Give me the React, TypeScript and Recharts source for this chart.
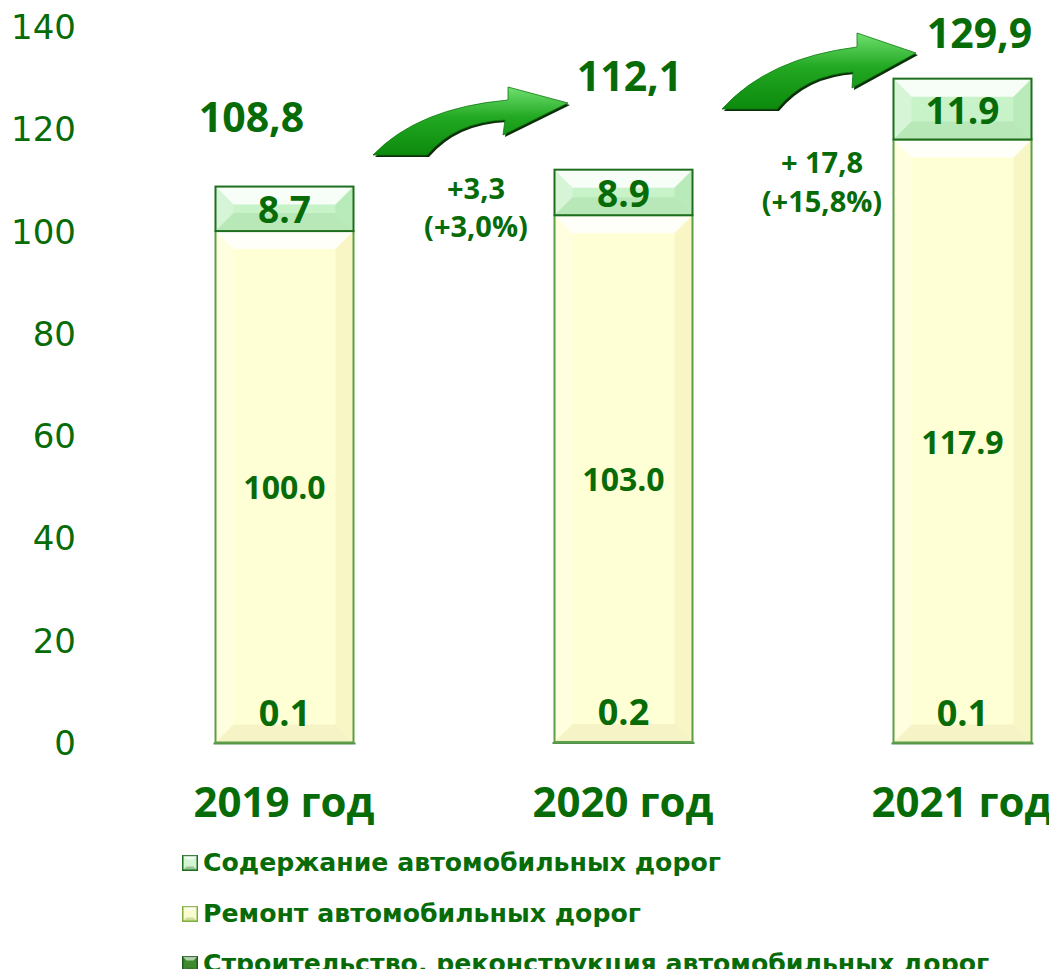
import { BarChart, Bar, XAxis, YAxis, LabelList } from "recharts";

// values
const years = ["2019 год", "2020 год", "2021 год"];
const construction = [0.1, 0.2, 0.1];
const repair = [100.0, 103.0, 117.9];
const maintenance = [8.7, 8.9, 11.9];
const yTicks = [0, 20, 40, 60, 80, 100, 120, 140];
const changeAbs = ["+3,3", "+ 17,8"];
const changePct = ["(+3,0%)", "(+15,8%)"];

const legendItems = [
  { name: "Содержание автомобильных дорог", face: "#d4f5d4", edge: "#1f6e1f" },
  { name: "Ремонт автомобильных дорог", face: "#fbfbd0", edge: "#7fae3f" },
  { name: "Строительство, реконструкция автомобильных дорог", face: "#3f8a2f", edge: "#1d5a1d" },
];

const TEXT = "#076b07";
const NUM_FONT = "'Open Sans', sans-serif";
const LEGEND_FONT = "'DejaVu Sans', Verdana, sans-serif";

// where the totals sit relative to the top of each stack (layout only)
const TOTAL_OFFSETS = [
  [-33, -71],
  [6, -95],
  [17, -47],
];

const data = years.map((year, i) => ({
  year,
  construction: construction[i],
  repair: repair[i],
  maintenance: maintenance[i],
  total: construction[i] + repair[i] + maintenance[i],
}));

function BevelBar(props: any) {
  const { x, y, width, height, face, side, bottom, stroke } = props;
  if (!height || height < 2) {
    return <rect x={x - 2} y={y} width={width + 4} height={2} fill="#4f8f4f" />;
  }
  const b = Math.min(18, height / 2.4, width / 4);
  const r = x + width;
  const btm = y + height;
  return (
    <g>
      <rect x={x} y={y} width={width} height={height} fill={face} />
      <polygon points={`${x},${y} ${r},${y} ${r - b},${y + b} ${x + b},${y + b}`} fill="#ffffff" opacity={0.85} />
      <polygon points={`${x},${y} ${x + b},${y + b} ${x + b},${btm - b} ${x},${btm}`} fill="#ffffff" opacity={0.25} />
      <polygon points={`${r},${y} ${r},${btm} ${r - b},${btm - b} ${r - b},${y + b}`} fill={side} opacity={0.35} />
      <polygon points={`${x},${btm} ${r},${btm} ${r - b},${btm - b} ${x + b},${btm - b}`} fill={bottom} opacity={0.35} />
      <rect x={x} y={y} width={width} height={height} fill="none" stroke={stroke} strokeWidth={2} />
    </g>
  );
}

const centerLabel = (size: number) => (p: any) => {
  const { x, y, width, height, value } = p;
  return (
    <text
      x={x + width / 2}
      y={y + height / 2}
      textAnchor="middle"
      dominantBaseline="central"
      fontFamily={NUM_FONT}
      fontWeight={700}
      fontSize={size}
      fill={TEXT}
    >
      {Number(value).toFixed(1)}
    </text>
  );
};

const constructionLabel = (p: any) => {
  const { x, y, width, value } = p;
  return (
    <text
      x={x + width / 2}
      y={y - 30}
      textAnchor="middle"
      dominantBaseline="central"
      fontFamily={NUM_FONT}
      fontWeight={700}
      fontSize={36}
      fill={TEXT}
    >
      {Number(value).toFixed(1)}
    </text>
  );
};

const totalLabel = (p: any) => {
  const { x, y, width, value, index } = p;
  const [dx, dy] = TOTAL_OFFSETS[index] ?? [0, -40];
  return (
    <text
      x={x + width / 2 + dx}
      y={y + dy}
      textAnchor="middle"
      dominantBaseline="central"
      fontFamily={NUM_FONT}
      fontWeight={700}
      fontSize={41}
      fill={TEXT}
    >
      {Number(value).toFixed(1).replace(".", ",")}
    </text>
  );
};

function YTick({ x, y, payload }: any) {
  return (
    <text x={x} y={y} textAnchor="end" dominantBaseline="central" fontFamily={LEGEND_FONT} fontSize={34} fill={TEXT}>
      {payload.value}
    </text>
  );
}

function XTick({ x, y, payload }: any) {
  return (
    <text x={x} y={y + 49} textAnchor="middle" dominantBaseline="central" fontFamily={NUM_FONT} fontWeight={700} fontSize={42} fill={TEXT}>
      {payload.value}
    </text>
  );
}

function Arrow({ d }: { d: string }) {
  return (
    <g>
      <path d={d} fill="#0b2e0b" transform="translate(2,2)" />
      <path d={d} fill="url(#arrowGrad)" stroke="#0f7a0f" strokeWidth={0.8} />
    </g>
  );
}

function LegendIcon({ face, edge }: { face: string; edge: string }) {
  return (
    <svg width={16} height={16} style={{ marginRight: 5, flex: "none" }}>
      <rect x={0.75} y={0.75} width={14.5} height={14.5} fill={face} stroke={edge} strokeWidth={1.5} />
      <polygon points="0.75,0.75 15.25,0.75 11.5,4.5 4.5,4.5" fill="#ffffff" opacity={0.6} />
      <polygon points="0.75,15.25 15.25,15.25 11.5,11.5 4.5,11.5" fill={edge} opacity={0.35} />
    </svg>
  );
}

export default function App() {
  return (
    <div style={{ position: "relative", width: 1057, height: 977, overflow: "hidden", margin: -8, background: "#fff" }}>
      <BarChart
        width={1140}
        height={977}
        data={data}
        margin={{ top: 27, right: 8.5, bottom: 154, left: 0 }}
        barSize={138}
      >
        <YAxis
          domain={[0, 140]}
          ticks={yTicks}
          width={114.5}
          axisLine={false}
          tickLine={false}
          tickMargin={32.5}
          tick={<YTick />}
        />
        <XAxis dataKey="year" axisLine={false} tickLine={false} height={80} tick={<XTick />} />
        <Bar
          dataKey="construction"
          stackId="a"
          isAnimationActive={false}
          shape={(p: any) => <BevelBar {...p} face="#3f8a2f" side="#2a6a2a" bottom="#1d5a1d" stroke="#2a6a2a" />}
        >
          <LabelList dataKey="construction" content={constructionLabel} />
        </Bar>
        <Bar
          dataKey="repair"
          stackId="a"
          isAnimationActive={false}
          shape={(p: any) => <BevelBar {...p} face="#ffffd6" side="#eae4a6" bottom="#e6e0a8" stroke="#5e9e46" />}
        >
          <LabelList dataKey="repair" content={centerLabel(32)} />
        </Bar>
        <Bar
          dataKey="maintenance"
          stackId="a"
          isAnimationActive={false}
          shape={(p: any) => <BevelBar {...p} face="#c8f2c8" side="#9edc9e" bottom="#9ad69a" stroke="#1f6e1f" />}
        >
          <LabelList dataKey="maintenance" content={centerLabel(37)} />
          <LabelList dataKey="total" content={totalLabel} />
        </Bar>
      </BarChart>

      <svg width={1057} height={977} style={{ position: "absolute", left: 0, top: 0, pointerEvents: "none" }}>
        <defs>
          <linearGradient id="arrowGrad" x1="0" y1="0" x2="0" y2="1">
            <stop offset="0%" stopColor="#6fe06f" />
            <stop offset="45%" stopColor="#22a822" />
            <stop offset="100%" stopColor="#0c8a0c" />
          </linearGradient>
        </defs>
        <Arrow d="M373,155 Q418,108 508,100 L508,87 L568,103 L503,135 L505,120 Q455,122 427,155 Z" />
        <Arrow d="M722,109 Q768,58 857,47 L857,33 L916,53 L852,88 L853,72 Q805,75 777,109 Z" />
        {[
          [476, 187, 225],
          [822, 161, 200],
        ].map(([cx, y1, y2], i) => (
          <g key={i} fontFamily={NUM_FONT} fontWeight={700} fontSize={29} fill={TEXT} textAnchor="middle">
            <text x={cx} y={y1} dominantBaseline="central">{changeAbs[i]}</text>
            <text x={cx} y={y2} dominantBaseline="central">{changePct[i]}</text>
          </g>
        ))}
      </svg>

      <div style={{ position: "absolute", left: 182, top: 838 }}>
        {legendItems.map((it) => (
          <div
            key={it.name}
            style={{
              display: "flex",
              alignItems: "center",
              height: 50.5,
              fontFamily: LEGEND_FONT,
              fontWeight: 700,
              fontSize: 25.2,
              color: TEXT,
              whiteSpace: "nowrap",
              lineHeight: "32px",
            }}
          >
            <LegendIcon face={it.face} edge={it.edge} />
            <span>{it.name}</span>
          </div>
        ))}
      </div>
    </div>
  );
}
